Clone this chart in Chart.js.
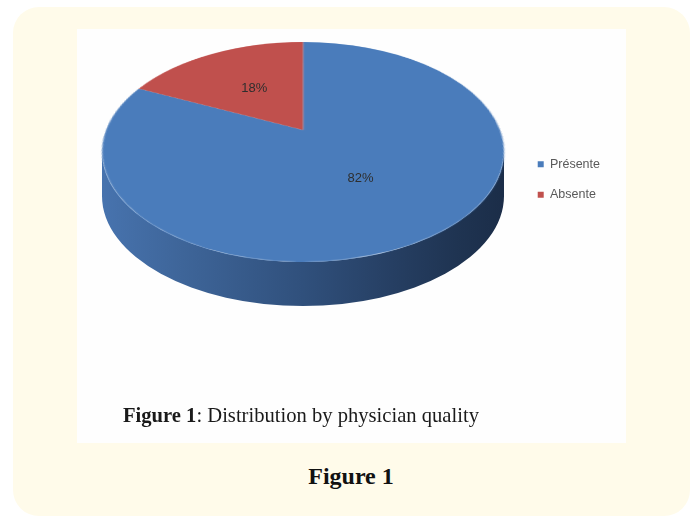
<!DOCTYPE html>
<html>
<head>
<meta charset="utf-8">
<script src="https://cdn.jsdelivr.net/npm/chart.js@4/dist/chart.umd.min.js"></script>
<style>
  html, body { margin: 0; padding: 0; background: #ffffff; }
  body { width: 692px; height: 522px; position: relative; overflow: hidden; }
  .frame {
    position: absolute; left: 13px; top: 7px; width: 677px; height: 509px;
    background: #fffbea; border-radius: 26px;
  }
  .figure {
    position: absolute; left: 77px; top: 29px; width: 549px; height: 414px;
    background: #fefefe; filter: blur(0.45px);
  }
  .chart-box { position: absolute; left: 0; top: 0; width: 549px; height: 414px; }
  .caption {
    position: absolute; left: 46px; top: 374px; line-height: 24px; white-space: nowrap;
    font-family: "Liberation Serif", "Times New Roman", serif; font-size: 20.6px; color: #1a1a1a;
  }
  .caption b { font-weight: bold; }
  .fig-label {
    position: absolute; left: 5px; width: 692px; top: 462px; line-height: 28px; text-align: center;
    font-family: "Liberation Serif", serif; font-weight: bold; font-size: 24px; color: #111111;
  }
</style>
</head>
<body>
<div class="frame"></div>
<div class="figure">
  <div class="chart-box"><canvas id="chart"></canvas></div>
  <div class="caption"><b>Figure 1</b>: Distribution by physician quality</div>
</div>
<div class="fig-label">Figure 1</div>

<script>
// Distribution by physician quality
const categories = ['Présente', 'Absente'];
const shares = [82, 18];

// Top face colours and the shaded wall colours (left to right) per slice
const topColors = ['#4a7cbb', '#c0504d'];
const wallStops = [
  [[0, '#4773ae'], [0.2, '#3e6599'], [0.5, '#30507c'], [0.72, '#263f63'], [0.88, '#1f3452'], [1, '#1b2d48']],
  [[0, '#a84441'], [0.5, '#8a3533'], [1, '#5e2422']]
];

// Where the tilted disc sits on the canvas, its wall height and the
// amount of perspective (far side foreshortened)
const tilt = { cx: 226, cy: 123, rx: 201, ry: 110, depth: 44, persp: 0.2 };

// Projective map of a point on the unit disc to the tilted ellipse
function project(u, v) {
  const p = tilt.persp, a = Math.sqrt(1 - p * p), w = 1 - p * v;
  return { x: tilt.cx + tilt.rx * a * u / w, y: tilt.cy + tilt.ry * (v - p) / w };
}
function ellipseAngle(theta) {
  const q = project(Math.cos(theta), Math.sin(theta));
  return Math.atan2((q.y - tilt.cy) / tilt.ry, (q.x - tilt.cx) / tilt.rx);
}

const tiltedPie = {
  id: 'tiltedPie',
  afterDatasetsDraw(chart) {
    const ctx = chart.ctx;
    const meta = chart.getDatasetMeta(0);
    const first = meta.data[0];
    const R = first.outerRadius, ox = first.x, oy = first.y;
    const p = tilt.persp, a = Math.sqrt(1 - p * p);

    // lift the flat pie the library just drew
    const size = Math.ceil(2 * R) + 2;
    const flat = document.createElement('canvas');
    flat.width = size; flat.height = size;
    flat.getContext('2d').drawImage(chart.canvas, ox - R - 1, oy - R - 1, size, size, 0, 0, size, size);
    const area = chart.chartArea;
    ctx.save();
    ctx.clearRect(area.left, area.top, area.right - area.left, area.bottom - area.top);

    // front walls (the half of the rim facing the viewer)
    meta.data.forEach((arc, i) => {
      const { startAngle, endAngle } = arc.getProps(['startAngle', 'endAngle'], true);
      const s = ellipseAngle(startAngle);
      let e = ellipseAngle(endAngle);
      while (e <= s) e += 2 * Math.PI;
      for (let k = -1; k <= 1; k++) {
        const lo = Math.max(s, 2 * Math.PI * k);
        const hi = Math.min(e, 2 * Math.PI * k + Math.PI);
        if (hi <= lo) continue;
        const g = ctx.createLinearGradient(tilt.cx - tilt.rx, 0, tilt.cx + tilt.rx, 0);
        wallStops[i].forEach(([t, c]) => g.addColorStop(t, c));
        ctx.beginPath();
        ctx.ellipse(tilt.cx, tilt.cy, tilt.rx, tilt.ry, 0, lo, hi);
        ctx.ellipse(tilt.cx, tilt.cy + tilt.depth, tilt.rx, tilt.ry, 0, hi, lo, true);
        ctx.closePath();
        ctx.fillStyle = g;
        ctx.fill();
      }
    });

    // top face: each screen row samples one row of the flat disc
    ctx.imageSmoothingEnabled = true;
    const rowV = (py) => {
      const yp = (py - tilt.cy) / tilt.ry;
      return (yp + p) / (1 + p * yp);
    };
    for (let py = Math.floor(tilt.cy - tilt.ry) - 1; py <= Math.ceil(tilt.cy + tilt.ry) + 1; py++) {
      const v0 = Math.max(-1, Math.min(1, rowV(py)));
      const v1 = Math.max(-1, Math.min(1, rowV(py + 1)));
      if (v1 <= v0) continue;
      const vm = (v0 + v1) / 2;
      const half = tilt.rx * a / (1 - p * vm) * (size / 2) / R;
      const sy = 1 + R + v0 * R, sh = (v1 - v0) * R;
      ctx.drawImage(flat, 0, sy, size, sh, tilt.cx - half, py, 2 * half, 1);
    }

    // percentage labels at each slice's centre point
    const total = shares.reduce((x, y) => x + y, 0);
    ctx.font = '13px "Liberation Sans", Arial, sans-serif';
    ctx.fillStyle = '#2e2e2e';
    ctx.textAlign = 'center';
    ctx.textBaseline = 'middle';
    meta.data.forEach((arc, i) => {
      const c = arc.getCenterPoint();
      const q = project((c.x - ox) / R, (c.y - oy) / R);
      ctx.fillText(Math.round(shares[i] / total * 100) + '%', q.x, q.y);
    });
    ctx.restore();
  }
};

new Chart(document.getElementById('chart'), {
  type: 'pie',
  data: {
    labels: categories,
    datasets: [{
      data: shares,
      backgroundColor: topColors,
      borderWidth: 0
    }]
  },
  options: {
    responsive: true,
    maintainAspectRatio: false,
    animation: false,
    layout: { padding: { right: 16, bottom: 113 } },
    plugins: {
      legend: {
        position: 'right',
        labels: {
          boxWidth: 6,
          boxHeight: 6,
          padding: 18,
          color: '#595959',
          font: { family: '"Liberation Sans", Arial, sans-serif', size: 12.5 }
        }
      },
      tooltip: { enabled: false }
    }
  },
  plugins: [tiltedPie]
});
</script>
</body>
</html>
